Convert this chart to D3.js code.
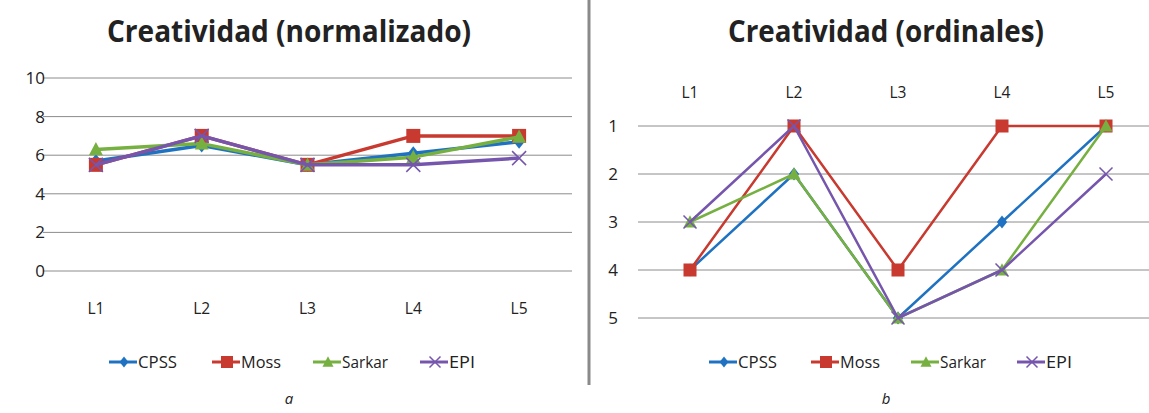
<!DOCTYPE html>
<html>
<head>
<meta charset="utf-8">
<script src="https://cdn.jsdelivr.net/npm/d3@7"></script>
<style>
  html, body { margin: 0; padding: 0; background: #fff; }
  svg { display: block; }
  text { font-family: "Open Sans", "DejaVu Sans", sans-serif; fill: #222; }
</style>
</head>
<body>
<svg id="fig" width="1149" height="413"></svg>
<script>
// Levels on the x axis
const categories = ["L1", "L2", "L3", "L4", "L5"];
const seriesNames = ["CPSS", "Moss", "Sarkar", "EPI"];

// Panel a: normalized creativity scores
const normCPSS   = [5.7, 6.5, 5.5, 6.1, 6.7];
const normMoss   = [5.5, 7.0, 5.5, 7.0, 7.0];
const normSarkar = [6.3, 6.6, 5.5, 5.9, 6.95];
const normEPI    = [5.5, 7.0, 5.5, 5.5, 5.85];
const normTicks  = [0, 2, 4, 6, 8, 10];

// Panel b: ordinal ranks
const ordCPSS   = [4, 2, 5, 3, 1];
const ordMoss   = [4, 1, 4, 1, 1];
const ordSarkar = [3, 2, 5, 4, 1];
const ordEPI    = [3, 1, 5, 4, 2];
const ordTicks  = [1, 2, 3, 4, 5];

const colors  = {CPSS: "#1f72c2", Moss: "#c8392f", Sarkar: "#76b040", EPI: "#7656ad"};
const shapes  = {CPSS: "diamond", Moss: "square", Sarkar: "triangle", EPI: "cross"};

const svg = d3.select("#fig");

function marker(g, shape, x, y, s, color) {
  if (shape === "diamond") {
    g.append("path").attr("d", `M${x},${y - s}L${x + s * 0.8},${y}L${x},${y + s}L${x - s * 0.8},${y}Z`).attr("fill", color);
  } else if (shape === "square") {
    g.append("rect").attr("x", x - s).attr("y", y - s).attr("width", 2 * s).attr("height", 2 * s).attr("fill", color);
  } else if (shape === "triangle") {
    g.append("path").attr("d", `M${x},${y - s * 1.05}L${x + s},${y + s * 0.85}L${x - s},${y + s * 0.85}Z`).attr("fill", color);
  } else {
    g.append("path").attr("d", `M${x - s},${y - s}L${x + s},${y + s}M${x - s},${y + s}L${x + s},${y - s}`)
      .attr("stroke", color).attr("stroke-width", 1.5).attr("fill", "none");
  }
}

function panel(cfg) {
  const g = svg.append("g");
  const x = d3.scalePoint().domain(categories).range([cfg.x0, cfg.x1]).padding(0.5);
  const y = d3.scaleLinear().domain(cfg.domain).range([cfg.yTop, cfg.yBot]);

  // title
  g.append("text").attr("x", cfg.titleX).attr("y", 42).attr("text-anchor", "middle")
    .attr("font-size", 30).attr("font-weight", "bold").attr("fill", "#000")
    .attr("textLength", cfg.titleW).attr("lengthAdjust", "spacingAndGlyphs")
    .text(cfg.title);

  // horizontal gridlines
  g.selectAll(".grid").data(cfg.ticks).enter().append("line")
    .attr("x1", cfg.x0).attr("x2", cfg.x1)
    .attr("y1", d => y(d)).attr("y2", d => y(d))
    .attr("stroke", "#8c8c8c").attr("stroke-width", 1);

  // value axis labels
  g.selectAll(".yl").data(cfg.ticks).enter().append("text")
    .attr("x", cfg.yLabelX).attr("y", d => y(d) + 6).attr("text-anchor", "end")
    .attr("font-size", 17).text(d => d);

  // category labels
  g.selectAll(".xl").data(categories).enter().append("text")
    .attr("x", d => x(d)).attr("y", cfg.catY).attr("text-anchor", "middle")
    .attr("font-size", 16).attr("textLength", 17).attr("lengthAdjust", "spacingAndGlyphs")
    .text(d => d);

  // series lines and markers
  const line = d3.line().x((d, i) => x(categories[i])).y(d => y(d));
  seriesNames.forEach((name, k) => {
    const vals = cfg.data[k];
    g.append("path").datum(vals).attr("d", line).attr("fill", "none")
      .attr("stroke", colors[name]).attr("stroke-width", cfg.lw).attr("stroke-linejoin", "round");
    vals.forEach((v, i) => marker(g, shapes[name], x(categories[i]), y(v), cfg.ms, colors[name]));
  });

  // legend
  const lg = g.append("g");
  seriesNames.forEach((name, k) => {
    const lx = cfg.legendX[k];
    lg.append("line").attr("x1", lx - 15).attr("x2", lx + 13).attr("y1", 362).attr("y2", 362)
      .attr("stroke", colors[name]).attr("stroke-width", 3);
    marker(lg, shapes[name], lx, 362, name === "Moss" ? 6 : 5.5, colors[name]);
    lg.append("text").attr("x", lx + 14).attr("y", 368).attr("font-size", 16)
      .attr("textLength", cfg.legendW[k]).attr("lengthAdjust", "spacingAndGlyphs").text(name);
  });

  // caption letter
  g.append("text").attr("x", cfg.titleX).attr("y", 404).attr("text-anchor", "middle")
    .attr("font-size", 15).attr("font-style", "italic").text(cfg.caption);
}

panel({
  title: "Creatividad (normalizado)", titleX: 289, titleW: 364,
  x0: 43, x1: 572, yTop: 78, yBot: 271, domain: [10, 0], ticks: normTicks,
  yLabelX: 45, catY: 314, lw: 3.5, ms: 7,
  data: [normCPSS, normMoss, normSarkar, normEPI],
  legendX: [124, 227, 328, 435], legendW: [39, 40, 46, 26], caption: "a"
});

panel({
  title: "Creatividad (ordinales)", titleX: 886, titleW: 316,
  x0: 638, x1: 1158, yTop: 126, yBot: 318, domain: [1, 5], ticks: ordTicks,
  yLabelX: 618, catY: 98, lw: 2.5, ms: 6.5,
  data: [ordCPSS, ordMoss, ordSarkar, ordEPI],
  legendX: [724, 826, 926, 1032], legendW: [39, 40, 46, 26], caption: "b"
});

// divider between the two panels
svg.append("line").attr("x1", 589).attr("x2", 589).attr("y1", 0).attr("y2", 385)
  .attr("stroke", "#8a8a8a").attr("stroke-width", 3);
</script>
</body>
</html>
